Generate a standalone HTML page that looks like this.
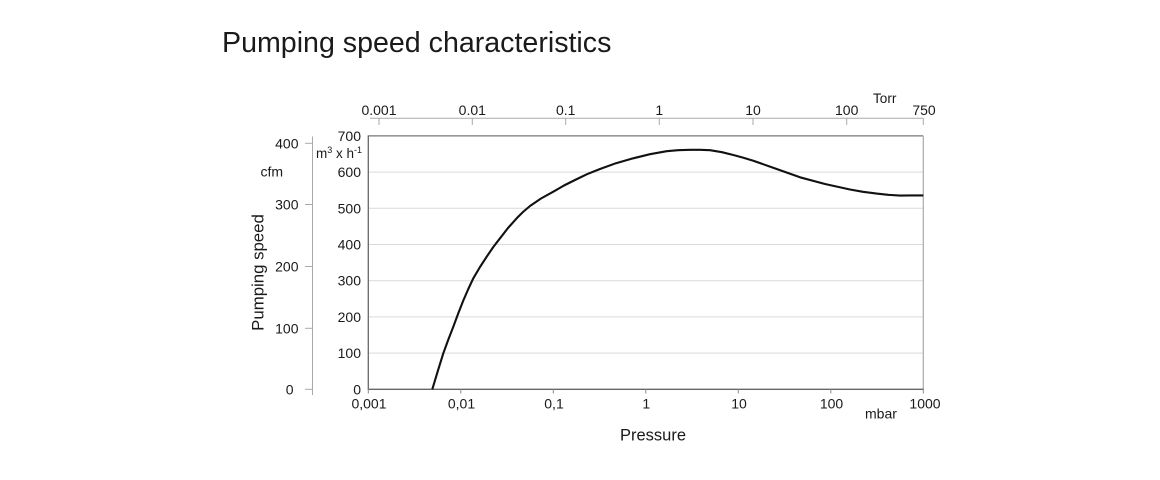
<!DOCTYPE html>
<html>
<head>
<meta charset="utf-8">
<style>
  html, body { margin: 0; padding: 0; background: #ffffff; }
  body { width: 1160px; height: 480px; overflow: hidden; }
  svg { display: block; }
  text { font-family: "Liberation Sans", Arial, sans-serif; fill: #1a1a1a; }
</style>
</head>
<body>
<svg width="1160" height="480" viewBox="0 0 1160 480" xmlns="http://www.w3.org/2000/svg">
  <!-- Title -->
  <text x="222" y="52" font-size="28.6" fill="#222">Pumping speed characteristics</text>

  <!-- Gridlines -->
  <g stroke="#d9d9d9" stroke-width="1">
    <line x1="369" y1="353.1" x2="923" y2="353.1"/>
    <line x1="369" y1="316.9" x2="923" y2="316.9"/>
    <line x1="369" y1="280.7" x2="923" y2="280.7"/>
    <line x1="369" y1="244.5" x2="923" y2="244.5"/>
    <line x1="369" y1="208.3" x2="923" y2="208.3"/>
    <line x1="369" y1="172.1" x2="923" y2="172.1"/>
  </g>

  <!-- Plot frame -->
  <line x1="368.3" y1="135.9" x2="923.3" y2="135.9" stroke="#777" stroke-width="1.2"/>
  <line x1="923.3" y1="135.9" x2="923.3" y2="389.3" stroke="#aaa" stroke-width="1.2"/>
  <line x1="368.3" y1="135.4" x2="368.3" y2="389.8" stroke="#666" stroke-width="1.3"/>
  <line x1="368" y1="389.3" x2="923.8" y2="389.3" stroke="#666" stroke-width="1.3"/>

  <!-- Bottom ticks -->
  <g stroke="#888" stroke-width="1">
    <line x1="368.3" y1="389" x2="368.3" y2="393.5"/>
    <line x1="460.8" y1="389" x2="460.8" y2="393.5"/>
    <line x1="553.3" y1="389" x2="553.3" y2="393.5"/>
    <line x1="645.8" y1="389" x2="645.8" y2="393.5"/>
    <line x1="738.3" y1="389" x2="738.3" y2="393.5"/>
    <line x1="830.8" y1="389" x2="830.8" y2="393.5"/>
    <line x1="923.3" y1="389" x2="923.3" y2="393.5"/>
  </g>
  <g font-size="14" text-anchor="middle">
    <text x="369" y="408.5">0,001</text>
    <text x="461.5" y="408.5">0,01</text>
    <text x="554" y="408.5">0,1</text>
    <text x="646.3" y="408.5">1</text>
    <text x="739" y="408.5">10</text>
    <text x="831.5" y="408.5">100</text>
    <text x="925" y="408.5">1000</text>
  </g>
  <text x="865" y="418.5" font-size="14">mbar</text>
  <text x="620" y="440.5" font-size="16.5">Pressure</text>

  <!-- Top Torr axis -->
  <line x1="370" y1="118.3" x2="923.5" y2="118.3" stroke="#aaa" stroke-width="1"/>
  <g stroke="#aaa" stroke-width="1">
    <line x1="379" y1="118.3" x2="379" y2="125"/>
    <line x1="472.3" y1="118.3" x2="472.3" y2="125"/>
    <line x1="565.7" y1="118.3" x2="565.7" y2="125"/>
    <line x1="659.3" y1="118.3" x2="659.3" y2="125"/>
    <line x1="753" y1="118.3" x2="753" y2="125"/>
    <line x1="846.7" y1="118.3" x2="846.7" y2="125"/>
    <line x1="923.3" y1="118.3" x2="923.3" y2="125"/>
  </g>
  <g font-size="14" text-anchor="middle">
    <text x="379" y="115">0.001</text>
    <text x="472.3" y="115">0.01</text>
    <text x="565.7" y="115">0.1</text>
    <text x="659.3" y="115">1</text>
    <text x="753" y="115">10</text>
    <text x="846.7" y="115">100</text>
    <text x="924" y="115">750</text>
  </g>
  <text x="873" y="103" font-size="13.6">Torr</text>

  <!-- Left m3/h labels -->
  <g font-size="14" text-anchor="end">
    <text x="361" y="394.3">0</text>
    <text x="361" y="358.1">100</text>
    <text x="361" y="321.9">200</text>
    <text x="361" y="285.7">300</text>
    <text x="361" y="249.5">400</text>
    <text x="361" y="213.3">500</text>
    <text x="361" y="177.1">600</text>
    <text x="361" y="140.9">700</text>
  </g>
  <text x="316" y="158" font-size="13.5">m<tspan font-size="9" dy="-5">3</tspan><tspan dy="5"> x h</tspan><tspan font-size="9" dy="-5">-1</tspan></text>

  <!-- cfm axis -->
  <line x1="312.5" y1="136.5" x2="312.5" y2="395" stroke="#aaa" stroke-width="1"/>
  <g stroke="#aaa" stroke-width="1">
    <line x1="305" y1="143.3" x2="312.5" y2="143.3"/>
    <line x1="305" y1="204.5" x2="312.5" y2="204.5"/>
    <line x1="305" y1="266.5" x2="312.5" y2="266.5"/>
    <line x1="305" y1="328.3" x2="312.5" y2="328.3"/>
    <line x1="305" y1="389.3" x2="312.5" y2="389.3"/>
  </g>
  <g font-size="14" text-anchor="end">
    <text x="298.5" y="148.3">400</text>
    <text x="298.5" y="209.5">300</text>
    <text x="298.5" y="271.5">200</text>
    <text x="298.5" y="333.3">100</text>
    <text x="293.5" y="394.3">0</text>
  </g>
  <text x="260.5" y="176.5" font-size="14">cfm</text>

  <!-- Rotated axis title -->
  <text transform="translate(263.5,272.5) rotate(-90)" font-size="16.8" text-anchor="middle">Pumping speed</text>

  <!-- Curve -->
  <polyline fill="none" stroke="#111" stroke-width="2.1" stroke-linejoin="round" stroke-linecap="butt"
    points="432.3,389.3 437.8,371.1 443.3,353.3 448.3,339.6 453.3,326.7 458.3,313.3 463.3,300.5 468.3,289 473.3,278.3 480,267 486.7,256.7 493.3,247 500,238.3 508,228 516.7,218.3 523,212 530,206 541,198.5 553.3,191.7 564,185.5 575,180 587,174.2 600,169 616,163.2 633.3,158.3 650,154.2 666.7,151.2 678,150.2 690,149.8 700,149.8 710,150.2 722,152.2 733.3,155 743,157.6 753.3,160.7 776,168.8 800,177.3 825,184 850,189.5 863,191.8 876.7,193.6 888,194.8 900,195.6 911,195.4 923.3,195.4"/>
</svg>
</body>
</html>
